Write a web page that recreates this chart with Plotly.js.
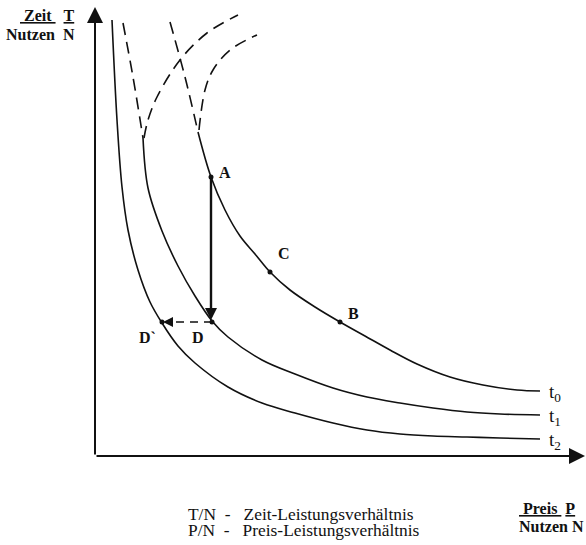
<!DOCTYPE html>
<html>
<head>
<meta charset="utf-8">
<script src="https://cdn.plot.ly/plotly-3.0.1.min.js"></script>
<style>html,body{margin:0;padding:0;background:#fff;overflow:hidden;}#chart{width:586px;height:545px;}</style>
</head>
<body>
<div id="chart"></div>
<script>
// ---- data (x = Preis/Nutzen, y = Zeit/Nutzen, arbitrary units) ----
const t0SolidX = [10.3, 11.6, 13.0, 14.5, 16.0, 17.5, 19.5, 22.0, 24.5, 27.0, 29.5, 32.2, 35.5, 38.8, 42.2, 44.5];
const t0SolidY = [32.4, 27.9, 24.6, 22.0, 20.2, 18.4, 16.6, 14.9, 13.4, 12.0, 10.6, 9.2, 7.9, 7.1, 6.6, 6.5];
const t0DashX = [7.5, 9.0, 10.3];
const t0DashY = [43.4, 37.9, 32.4];

const t1SolidX = [4.8, 5.3, 6.7, 8.3, 10.0, 11.7, 13.3, 16.7, 20.0, 23.8, 27.2, 30.5, 33.8, 37.2, 40.5, 44.5];
const t1SolidY = [31.8, 26.8, 22.5, 19.0, 16.0, 13.5, 11.9, 9.6, 8.2, 6.8, 5.9, 5.3, 4.8, 4.4, 4.2, 4.1];
const t1DashX = [2.8, 3.8, 4.8];
const t1DashY = [43.3, 37.9, 31.8];

const t2X = [1.7, 2.2, 2.7, 3.3, 4.3, 5.5, 6.7, 8.3, 10.0, 13.3, 16.7, 20.0, 23.8, 27.2, 30.5, 33.8, 37.2, 40.5, 44.5];
const t2Y = [43.6, 33.6, 26.9, 22.6, 18.6, 15.4, 13.3, 11.0, 9.3, 6.9, 5.3, 4.3, 3.3, 2.6, 2.2, 2.0, 1.9, 1.8, 1.7];

const arc1X = [4.9, 5.3, 6.2, 8.5, 11.2, 14.3];
const arc1Y = [31.8, 33.6, 35.9, 39.6, 42.3, 44.1];
const arc2X = [10.4, 11.0, 11.8, 13.5, 16.2];
const arc2Y = [32.6, 36.6, 38.6, 40.6, 42.1];

const pointNames = ['A', 'C', 'B', 'D', 'D`'];
const pointX = [11.6, 17.5, 24.5, 11.7, 6.7];
const pointY = [27.9, 18.4, 13.4, 13.4, 13.4];

const curveNames = ['t<sub>0</sub>', 't<sub>1</sub>', 't<sub>2</sub>'];
const curveEndY = [6.5, 4.1, 1.7];

const yAxisLabel = ['<u>\u00a0Zeit\u00a0</u>\u00a0\u00a0<u>T</u>', 'Nutzen\u00a0\u00a0N'];
const xAxisLabel = ['<u>\u00a0Preis\u00a0</u>\u00a0<u>P</u>', 'Nutzen\u00a0N'];
const legendLines = ['T/N\u00a0\u00a0-\u00a0\u00a0 Zeit-Leistungsverhältnis', 'P/N\u00a0\u00a0-\u00a0\u00a0 Preis-Leistungsverhältnis'];

// ---- styles ----
const INK = '#111';
const SERIF = 'Liberation Serif, Times New Roman, serif';
const solid = {color: INK, width: 1.6, shape: 'spline', smoothing: 1};
const dashed = {color: INK, width: 1.6, shape: 'spline', smoothing: 1, dash: '12px,7px'};

const traces = [
  {x: t0SolidX, y: t0SolidY, mode: 'lines', line: solid},
  {x: t0DashX, y: t0DashY, mode: 'lines', line: dashed},
  {x: t1SolidX, y: t1SolidY, mode: 'lines', line: solid},
  {x: t1DashX, y: t1DashY, mode: 'lines', line: dashed},
  {x: t2X, y: t2Y, mode: 'lines', line: solid},
  {x: arc1X, y: arc1Y, mode: 'lines', line: dashed},
  {x: arc2X, y: arc2Y, mode: 'lines', line: dashed},
  // dashed move D -> D'
  {x: [pointX[3], pointX[4] + 0.9], y: [pointY[3], pointY[4]], mode: 'lines',
   line: {color: INK, width: 1.5, dash: '8px,6px'}},
  {x: pointX, y: pointY, mode: 'markers', marker: {color: INK, size: 5}}
];

const annotations = [];
const W = 488, H = 448, L = 95, B = 456;
const px = v => (v - L) / W;
const py = v => (B - v) / H;

// axes with arrowheads
annotations.push({x: 49.0, y: 0, ax: 0, ay: 0, xref: 'x', yref: 'y', axref: 'x', ayref: 'y',
  text: '', showarrow: true, arrowhead: 2, arrowsize: 1.6, arrowwidth: 2, arrowcolor: INK});
annotations.push({x: 0, y: 44.9, ax: 0, ay: 0, xref: 'x', yref: 'y', axref: 'x', ayref: 'y',
  text: '', showarrow: true, arrowhead: 2, arrowsize: 1.6, arrowwidth: 2, arrowcolor: INK});
// A -> D arrow
annotations.push({x: pointX[3] - 0.1, y: pointY[3] + 0.2, ax: pointX[0], ay: pointY[0], xref: 'x', yref: 'y', axref: 'x', ayref: 'y',
  text: '', showarrow: true, arrowhead: 2, arrowsize: 1, arrowwidth: 2.4, arrowcolor: INK});
// arrowhead at D'
annotations.push({x: pointX[4] + 0.1, y: pointY[4], ax: pointX[4] + 1.2, ay: pointY[4], xref: 'x', yref: 'y', axref: 'x', ayref: 'y',
  text: '', showarrow: true, arrowhead: 2, arrowsize: 1, arrowwidth: 2, arrowcolor: INK});

// point labels
const labelDX = [1.4, 1.4, 1.3, -1.4, -1.5];
const labelDY = [0.5, 1.9, 0.9, -1.5, -1.5];
pointNames.forEach((n, i) => annotations.push({
  x: pointX[i] + labelDX[i], y: pointY[i] + labelDY[i], xref: 'x', yref: 'y', text: '<b>' + n + '</b>',
  showarrow: false, font: {family: SERIF, size: 16, color: INK}
}));

// curve labels
curveNames.forEach((n, i) => annotations.push({
  x: 45.2, y: curveEndY[i] - 0.2, xref: 'x', yref: 'y', text: n, xanchor: 'left', yanchor: 'middle',
  showarrow: false, font: {family: SERIF, size: 19, color: INK}
}));

// axis labels (one annotation per line)
const yLabRows = [15, 35];
yAxisLabel.forEach((t, i) => annotations.push({x: px(77), y: py(yLabRows[i]), xref: 'paper', yref: 'paper',
  xanchor: 'right', yanchor: 'middle', text: '<b>' + t + '</b>', showarrow: false,
  font: {family: SERIF, size: 16, color: INK}}));
const xLabRows = [508, 526];
xAxisLabel.forEach((t, i) => annotations.push({x: px(517), y: py(xLabRows[i]), xref: 'paper', yref: 'paper',
  xanchor: 'left', yanchor: 'middle', text: '<b>' + t + '</b>', showarrow: false,
  font: {family: SERIF, size: 16, color: INK}}));
const legRows = [514, 530];
legendLines.forEach((t, i) => annotations.push({x: px(186), y: py(legRows[i]), xref: 'paper', yref: 'paper',
  xanchor: 'left', yanchor: 'middle', text: t, showarrow: false,
  font: {family: SERIF, size: 17.4, color: INK}}));

const layout = {
  width: 586, height: 545,
  margin: {l: 95, r: 3, t: 8, b: 89},
  paper_bgcolor: '#fff', plot_bgcolor: '#fff',
  showlegend: false,
  xaxis: {range: [0, 48.8], visible: false, fixedrange: true},
  yaxis: {range: [0, 44.8], visible: false, fixedrange: true},
  annotations: annotations
};

Plotly.newPlot('chart', traces, layout, {staticPlot: true, displayModeBar: false});
</script>
</body>
</html>
